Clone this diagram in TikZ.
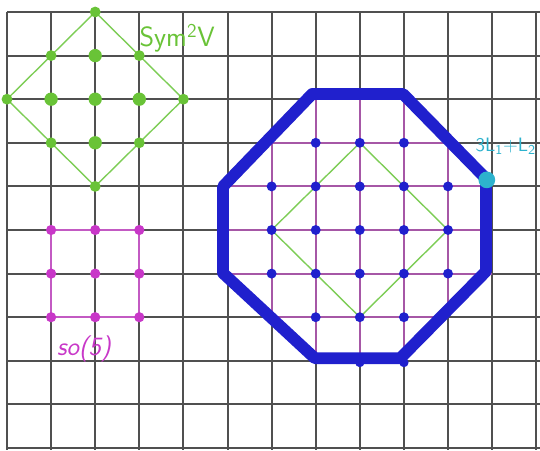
\documentclass[tikz,border=0pt]{standalone}
\usepackage{fontspec}
\definecolor{gridc}{RGB}{80,80,80}
\definecolor{glin}{RGB}{125,205,85}
\definecolor{gdotc}{RGB}{105,195,55}
\definecolor{mdotc}{RGB}{200,55,200}
\definecolor{mlin}{RGB}{195,90,195}
\definecolor{blu}{RGB}{32,32,205}
\definecolor{cya}{RGB}{45,178,205}
\tikzset{
  gridline/.style={draw=gridc, line width=1.3pt},
  greenline/.style={draw=glin, line width=0.9pt},
  magline/.style={draw=mlin, line width=1.2pt},
  innermag/.style={draw=mlin, line width=1.4pt, opacity=0.75},
  octa/.style={draw=blu, line width=7.6pt, line join=round},
  lbl/.style={inner sep=0pt}
}
\begin{document}
\begin{tikzpicture}[x=1cm,y={(0,-0.98866cm)}]
\useasboundingbox (-0.1587,-0.2752) rectangle (12.086,10.046);
\fill[white] (-0.1587,-0.2752) rectangle (12.086,10.046);
% grid
\foreach \i in {0,...,12} \draw[gridline] (\i,0) -- (\i,10.046);
\foreach \j in {0,...,10} \draw[gridline] (0,\j) -- (12.086,\j);

% Sym^2 V diamond
\draw[greenline] (2,0) -- (4,2) -- (2,4) -- (0,2) -- cycle;
\foreach \p in {(2,0),(1,1),(3,1),(0,2),(4,2),(1,3),(3,3),(2,4)}
  \fill[gdotc] \p circle (3.5pt);
\foreach \p in {(2,1),(1,2),(2,2),(3,2),(2,3)}
  \fill[gdotc] \p circle (4.3pt);
\node[lbl, anchor=base west, text=gdotc, font=\sffamily\fontsize{18}{18}\selectfont] (symlabel) at (3.0,0.8) {Sym\textsuperscript{2}V};

% so(5) square
\draw[magline] (1,5) rectangle (3,7);
\foreach \i in {1,2,3} \foreach \j in {5,6,7}
  \fill[mdotc] (\i,\j) circle (3.3pt);
\node[lbl, anchor=base west, text=mdotc, font=\sffamily\itshape\fontsize{17}{17}\selectfont] (solabel) at (1.13,7.87) {so(5)};

% inner magenta grid
\foreach \j in {3,7} \draw[innermag] (6,\j) -- (10,\j);
\foreach \j in {4,5,6} \draw[innermag] (5,\j) -- (11,\j);
\foreach \i in {6,10} \draw[innermag] (\i,3) -- (\i,7);
\foreach \i in {7,8,9} \draw[innermag] (\i,2) -- (\i,8);
% inner green diamond
\draw[greenline] (8,3) -- (10,5) -- (8,7) -- (6,5) -- cycle;
% blue dots
\foreach \i in {7,8,9} \fill[blu] (\i,3) circle (3.2pt);
\foreach \i in {6,...,10} \foreach \j in {4,5,6} \fill[blu] (\i,\j) circle (3.2pt);
\foreach \i in {7,8,9} \fill[blu] (\i,7) circle (3.2pt);
\fill[blu] (8,8.04) circle (3pt);
\fill[blu] (9,8.04) circle (3pt);
% octagon
\draw[octa] (6.92,1.88) -- (8.98,1.88) -- (10.86,3.82) -- (10.86,5.95) -- (8.92,7.94) -- (6.98,7.94) -- (4.9,5.99) -- (4.9,4.0) -- cycle;
\coordinate (hw) at (10.88,3.85);
\fill[cya] (hw) circle (5.4pt);
\node[lbl, anchor=base west, text=cya, font=\sffamily\fontsize{12.5}{12.5}\selectfont] (hwlabel) at (10.62,3.2) {3L\textsubscript{1}+L\textsubscript{2}};
\end{tikzpicture}
\end{document}
